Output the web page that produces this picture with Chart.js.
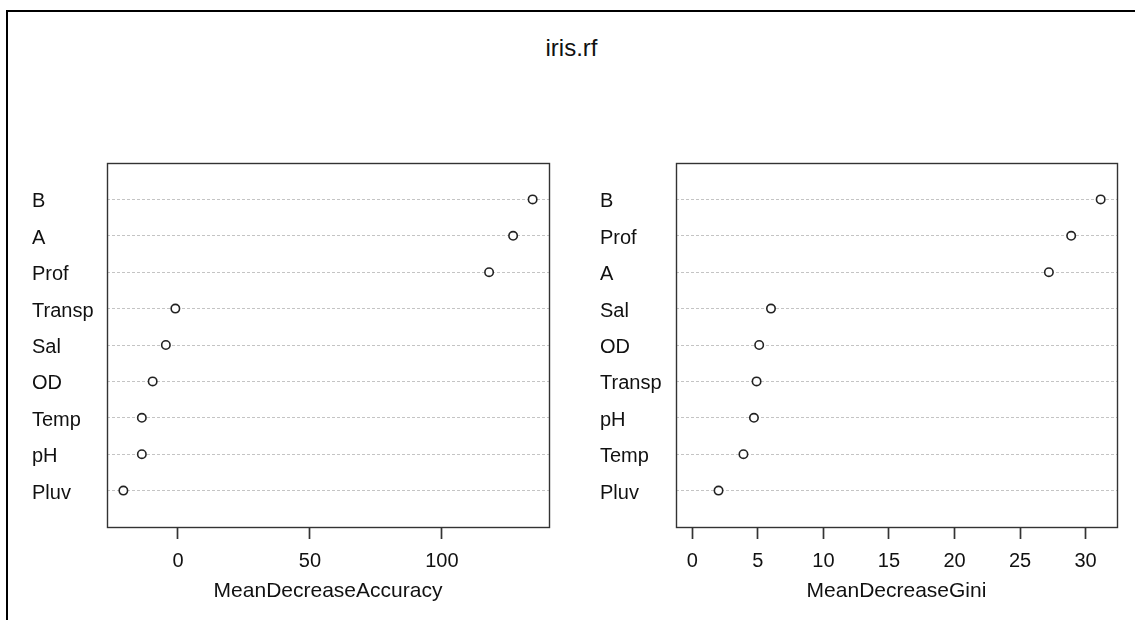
<!DOCTYPE html>
<html>
<head>
<meta charset="utf-8">
<script src="https://cdn.jsdelivr.net/npm/chart.js@4/dist/chart.umd.min.js"></script>
<style>
  html, body { margin: 0; padding: 0; background: #fff; overflow: hidden; }
  #page { position: relative; width: 1135px; height: 620px; overflow: hidden; background: #fff; }
  #frame { position: absolute; left: 6px; top: 10px; width: 1200px; height: 700px;
           border-top: 2px solid #000; border-left: 2px solid #000; }
  #title { position: absolute; left: 0; top: 36px; width: 1143px; text-align: center;
           font: 24px "Liberation Sans", Arial, sans-serif; line-height: 24px; color: #111; }
  canvas { position: absolute; }
</style>
</head>
<body>
<div id="page">
  <div id="frame"></div>
  <div id="title">iris.rf</div>
  <canvas id="accChart" width="560" height="480" style="left:0px;top:140px"></canvas>
  <canvas id="giniChart" width="575" height="480" style="left:560px;top:140px"></canvas>
</div>
<script>
// Variable importance, top row first
const accLabels = ['B', 'A', 'Prof', 'Transp', 'Sal', 'OD', 'Temp', 'pH', 'Pluv'];
const accValues = [134.4, 127.0, 117.9, -1.0, -4.6, -9.6, -13.7, -13.7, -20.7];
const accTicks = [0, 50, 100];

const giniLabels = ['B', 'Prof', 'A', 'Sal', 'OD', 'Transp', 'pH', 'Temp', 'Pluv'];
const giniValues = [31.15, 28.9, 27.2, 6.0, 5.1, 4.9, 4.7, 3.9, 2.0];
const giniTicks = [0, 5, 10, 15, 20, 25, 30];

const FONT = '"Liberation Sans", Arial, sans-serif';

// box around the plotting region, like base R
const boxPlugin = {
  id: 'box',
  afterDraw(chart) {
    const { ctx, chartArea: a } = chart;
    ctx.save();
    ctx.strokeStyle = '#333';
    ctx.lineWidth = 1.4;
    ctx.strokeRect(Math.round(a.left) + 0.5, Math.round(a.top) + 0.5,
                   Math.round(a.right - a.left), Math.round(a.bottom - a.top));
    ctx.restore();
  }
};

// dotchart: one row per variable, x range padded by 4% on each side
const makeDotchart = (id, labels, values, ticks, title, xmin, pad, yWidth) => {
  const n = labels.length;
  const lo = xmin !== null ? xmin : Math.min(...values);
  const hi = Math.max(...values);
  const ext = (hi - lo) * 0.04;

  return new Chart(document.getElementById(id), {
    type: 'scatter',
    data: {
      datasets: [{
        data: values.map((v, i) => ({ x: v, y: n - i })),
        pointStyle: 'circle',
        pointRadius: 4.2,
        pointBorderWidth: 1.6,
        borderColor: '#222',
        backgroundColor: '#fff'
      }]
    },
    options: {
      responsive: false,
      animation: false,
      layout: { padding: pad },
      plugins: { legend: { display: false }, tooltip: { enabled: false } },
      scales: {
        x: {
          type: 'linear',
          position: 'bottom',
          min: lo - ext,
          max: hi + ext,
          afterBuildTicks: (axis) => { axis.ticks = ticks.map(v => ({ value: v })); },
          afterFit: (axis) => { axis.height = 93; },
          grid: { display: true, drawOnChartArea: false, drawTicks: true,
                  tickLength: 12, tickColor: '#333', tickWidth: 1.7 },
          border: { display: false },
          ticks: { color: '#111', padding: 10, maxRotation: 0, autoSkip: false,
                   font: { family: FONT, size: 20 }, callback: (v) => String(v) },
          title: { display: true, text: title, color: '#111',
                   font: { family: FONT, size: 21 }, padding: { top: 0, bottom: 16 } }
        },
        y: {
          type: 'linear',
          position: 'left',
          min: 0,
          max: n + 1,
          afterBuildTicks: (axis) => { axis.ticks = labels.map((_, i) => ({ value: n - i })); },
          afterFit: (axis) => { axis.width = yWidth; },
          grid: { display: true, drawTicks: false, color: '#c4c4c4', lineWidth: 1 },
          border: { display: false, dash: [3, 2] },
          ticks: { color: '#111', crossAlign: 'far', autoSkip: false, labelOffset: 2.5,
                   font: { family: FONT, size: 20 },
                   callback: (v) => labels[n - v] }
        }
      }
    },
    plugins: [boxPlugin]
  });
};

makeDotchart('accChart', accLabels, accValues, accTicks, 'MeanDecreaseAccuracy',
             null, { left: 32, top: 23, right: 11, bottom: 0 }, 75);
makeDotchart('giniChart', giniLabels, giniValues, giniTicks, 'MeanDecreaseGini',
             0, { left: 40, top: 23, right: 18, bottom: 0 }, 76);
</script>
</body>
</html>
